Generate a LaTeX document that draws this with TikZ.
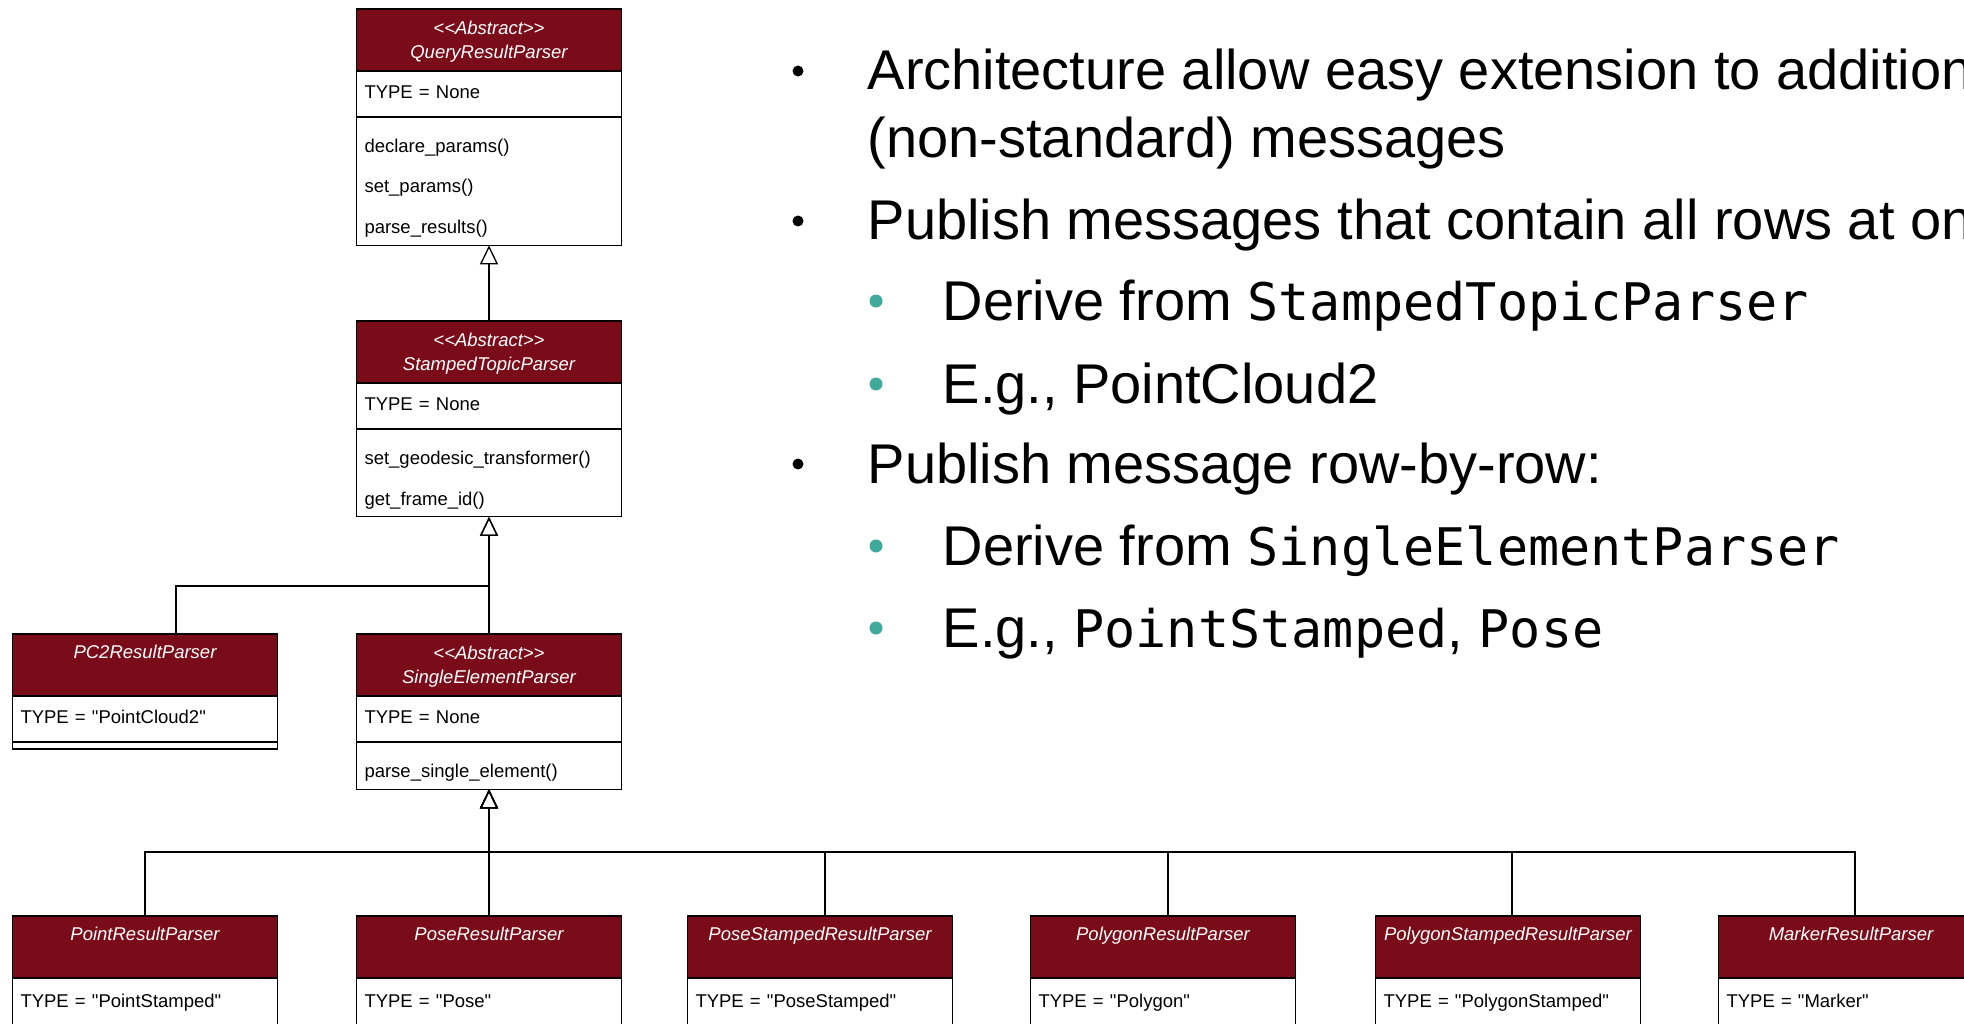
\documentclass[tikz,border=0pt]{standalone}
\usepackage{fontspec}
\setmainfont{Liberation Sans}
\setmonofont{DejaVu Sans Mono}[Scale=0.925]
\newfontfamily\umlsans{Liberation Sans}
\usetikzlibrary{arrows.meta, positioning}

\definecolor{umlred}{HTML}{7A0C1A}
\definecolor{subteal}{HTML}{3FA99B}

\begin{document}
\begin{tikzpicture}[x=1pt, y=-1pt, node distance=0pt, line width=1.3pt]
	\tikzstyle{hdr}=[
	draw, fill=umlred, text=white, anchor=north,
	minimum width=265pt, minimum height=62pt, inner sep=0pt, outer sep=0pt,
	font=\umlsans\fontsize{18.5}{23.5}\selectfont\itshape, align=center,
	text depth=0pt
	]
	\tikzstyle{hdrone}=[hdr, text depth=26pt]
	\tikzstyle{attr}=[
	draw, fill=white, minimum width=265pt, minimum height=46pt,
	text width=249pt, inner xsep=8pt, outer sep=0pt, align=left,
	text height=13.5pt, text depth=4.5pt,
	font=\umlsans\fontsize{18.5}{23}\selectfont
	]
	\tikzstyle{ops}=[
	draw, fill=white, minimum width=265pt,
	text width=249pt, inner xsep=8pt, inner ysep=8pt, outer sep=0pt, align=left,
	execute at begin node={\rule{0pt}{27.5pt}},
	font=\umlsans\fontsize{18.5}{40.5}\selectfont
	]
	\tikzstyle{inh}=[-{Triangle[open, length=19pt, width=18pt]}]
	\tikzstyle{txt}=[anchor=base west, inner sep=0pt, font=\fontsize{56}{68}\selectfont]
	\tikzstyle{dotmain}=[circle, fill=black, inner sep=0pt, minimum size=11pt]
	\tikzstyle{dotsub}=[circle, fill=subteal, inner sep=0pt, minimum size=13pt]
	
	\useasboundingbox (0,0) rectangle (1964,1024);
	\clip (0,0) rectangle (1964,1024);
	
	% base classes
	\node[hdr] (qrp) at (489,9) {<<Abstract>>\\QueryResultParser};
	\node[attr, below=of qrp] (qrpattr) {TYPE = None};
	\node[ops, below=of qrpattr] (qrpops) {declare\_params()\\set\_params()\\parse\_results()};
	
	\node[hdr] (stp) at (489,321) {<<Abstract>>\\StampedTopicParser};
	\node[attr, below=of stp] (stpattr) {TYPE = None};
	\node[ops, below=of stpattr] (stpops) {set\_geodesic\_transformer()\\get\_frame\_id()};
	
	\node[hdrone] (pc2) at (145,634) {PC2ResultParser};
	\node[attr, below=of pc2] (pc2attr) {TYPE = "PointCloud2"};
	\node[draw, fill=white, below=of pc2attr, minimum width=265pt, minimum height=7pt,
	inner sep=0pt, outer sep=0pt] (pc2ops) {};
	
	\node[hdr] (sep) at (489,634) {<<Abstract>>\\SingleElementParser};
	\node[attr, below=of sep] (sepattr) {TYPE = None};
	\node[ops, below=of sepattr] (sepops) {parse\_single\_element()};
	
	% concrete parsers
	\node[hdrone] (point) at (145,916) {PointResultParser};
	\node[attr, below=of point, minimum height=50pt] (pointattr) {TYPE = "PointStamped"};
	\node[hdrone] (pose) at (489,916) {PoseResultParser};
	\node[attr, below=of pose, minimum height=50pt] (poseattr) {TYPE = "Pose"};
	\node[hdrone] (posestp) at (820,916) {PoseStampedResultParser};
	\node[attr, below=of posestp, minimum height=50pt] (posestpattr) {TYPE = "PoseStamped"};
	\node[hdrone] (polygon) at (1163,916) {PolygonResultParser};
	\node[attr, below=of polygon, minimum height=50pt] (polygonattr) {TYPE = "Polygon"};
	\node[hdrone] (polystp) at (1508,916) {PolygonStampedResultParser};
	\node[attr, below=of polystp, minimum height=50pt] (polystpattr) {TYPE = "PolygonStamped"};
	\node[hdrone] (marker) at (1851,916) {MarkerResultParser};
	\node[attr, below=of marker, minimum height=50pt] (markerattr) {TYPE = "Marker"};
	
	% inheritance
	\coordinate (topjoin) at (489,586);
	\coordinate (botjoin) at (489,852);
	\draw[inh] (stp.north) -- (qrpops.south);
	\draw[inh] ([xshift=31pt]pc2.north) |- (topjoin) -- (stpops.south);
	\draw[inh] (sep.north) -- (stpops.south);
	\draw[inh] (point.north) |- (botjoin) -- (sepops.south);
	\draw[inh] (pose.north) -- (sepops.south);
	\draw[inh] ([xshift=5pt]posestp.north) |- (botjoin) -- (sepops.south);
	\draw[inh] ([xshift=5pt]polygon.north) |- (botjoin) -- (sepops.south);
	\draw[inh] ([xshift=4pt]polystp.north) |- (botjoin) -- (sepops.south);
	\draw[inh] ([xshift=4pt]marker.north) |- (botjoin) -- (sepops.south);
	
	% bullet list
	\node[dotmain] (b1) at (798,71) {};
	\node[txt] (t1) at (867,90) {Architecture allow easy extension to additional};
	\node[txt] (t1b) at (867,158) {(non-standard) messages};
	\node[dotmain] (b2) at (798,221) {};
	\node[txt] (t2) at (867,240) {Publish messages that contain all rows at once};
	\node[dotsub] (s1) at (876,301) {};
	\node[txt] (u1) at (942,320) {Derive from \texttt{StampedTopicParser}};
	\node[dotsub] (s2) at (876,384) {};
	\node[txt] (u2) at (942,403) {E.g., PointCloud2};
	\node[dotmain] (b3) at (798,464) {};
	\node[txt] (t3) at (867,483) {Publish message row-by-row:};
	\node[dotsub] (s3) at (876,546) {};
	\node[txt] (u3) at (942,565) {Derive from \texttt{SingleElementParser}};
	\node[dotsub] (s4) at (876,628) {};
	\node[txt] (u4) at (942,647) {E.g., \texttt{PointStamped}, \texttt{Pose}};
\end{tikzpicture}
\end{document}
